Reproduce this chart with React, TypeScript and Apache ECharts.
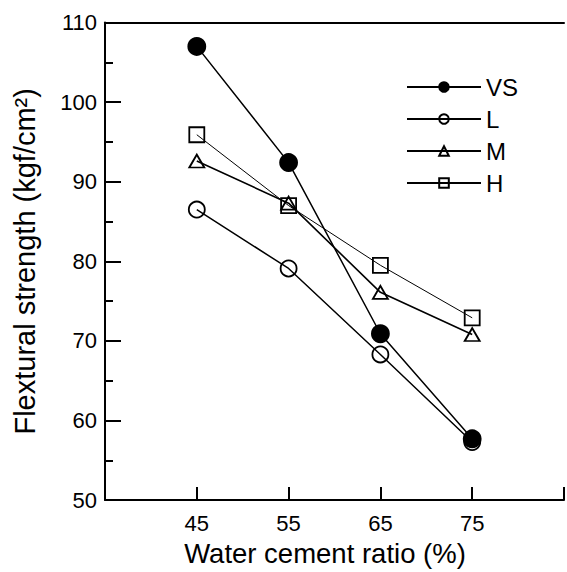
import React, { useEffect, useRef } from "react";
import * as echarts from "echarts";

const ratios = [45, 55, 65, 75];
const vsValues = [107.0, 92.4, 70.9, 57.7];
const lValues = [86.5, 79.1, 68.3, 57.3];
const mValues = [92.6, 87.3, 76.1, 70.8];
const hValues = [95.9, 87.0, 79.5, 72.9];
const xTickLabels = ["45", "55", "65", "75"];

const FONT = "'Liberation Sans', Arial, sans-serif";

function pairs(vals: number[]) {
  return ratios.map((r, i) => [r, vals[i]]);
}

export default function App() {
  const ref = useRef<HTMLDivElement>(null);
  useEffect(() => {
    if (!ref.current) return;
    const chart = echarts.init(ref.current, undefined, { renderer: "svg" });
    const mk = (
      name: string,
      vals: number[],
      symbol: string,
      size: number | number[],
      fill: string,
      lw: number
    ) => ({
      name,
      type: "line",
      data: pairs(vals),
      symbol,
      symbolSize: size,
      showAllSymbol: true,
      lineStyle: { color: "#000", width: lw },
      itemStyle: { color: fill, borderColor: "#000", borderWidth: 1.8 },
      emphasis: { disabled: true },
    });
    chart.setOption({
      animation: false,
      backgroundColor: "#fff",
      grid: { left: 105, right: 0, top: 22.5, bottom: 68.5 },
      legend: {
        left: 401,
        top: 70,
        orient: "vertical",
        itemWidth: 74,
        itemHeight: 12,
        itemGap: 8,
        textStyle: { fontFamily: FONT, fontSize: 24, color: "#000" },
        data: ["VS", "L", "M", "H"],
      },
      xAxis: [
        {
          type: "value",
          min: 35,
          max: 85,
          interval: 10,
          name: "Water cement ratio (%)",
          nameLocation: "middle",
          nameGap: 38,
          nameTextStyle: {
            fontFamily: FONT,
            fontSize: 27.5,
            color: "#000",
            padding: [0, 19, 0, 0],
          },
          axisLine: { lineStyle: { color: "#000", width: 2 } },
          axisTick: { inside: true, length: 13, lineStyle: { color: "#000", width: 2 } },
          axisLabel: {
            fontFamily: FONT,
            fontSize: 22,
            color: "#000",
            margin: 12,
            formatter: (v: number) => {
              const s = String(v);
              return xTickLabels.includes(s) ? s : "";
            },
          },
          splitLine: { show: false },
        },
        {
          type: "value",
          position: "top",
          min: 35,
          max: 85,
          axisLine: { show: true, lineStyle: { color: "#000", width: 2 } },
          axisTick: { show: false },
          axisLabel: { show: false },
          splitLine: { show: false },
        },
      ],
      yAxis: {
        type: "value",
        min: 50,
        max: 110,
        interval: 10,
        name: "Flextural strength (kgf/cm²)",
        nameLocation: "middle",
        nameGap: 66,
        nameTextStyle: { fontFamily: FONT, fontSize: 29, color: "#000" },
        axisLine: { show: true, lineStyle: { color: "#000", width: 2 } },
        axisTick: { inside: true, length: 16, lineStyle: { color: "#000", width: 2 } },
        minorTick: { show: true, splitNumber: 2, length: 8, lineStyle: { color: "#000", width: 2 } },
        axisLabel: { fontFamily: FONT, fontSize: 22, color: "#000", margin: 8 },
        splitLine: { show: false },
      },
      series: [
        mk("H", hValues, "rect", 15, "rgba(0,0,0,0)", 1),
        mk("M", mValues, "triangle", [15, 13], "rgba(0,0,0,0)", 1.6),
        mk("L", lValues, "circle", 16, "rgba(0,0,0,0)", 1.5),
        mk("VS", vsValues, "circle", 17, "#000", 1.5),
      ],
    });
    return () => chart.dispose();
  }, []);
  return <div ref={ref} style={{ width: 567, height: 572, position: "absolute", left: 0, top: 0 }} />;
}
